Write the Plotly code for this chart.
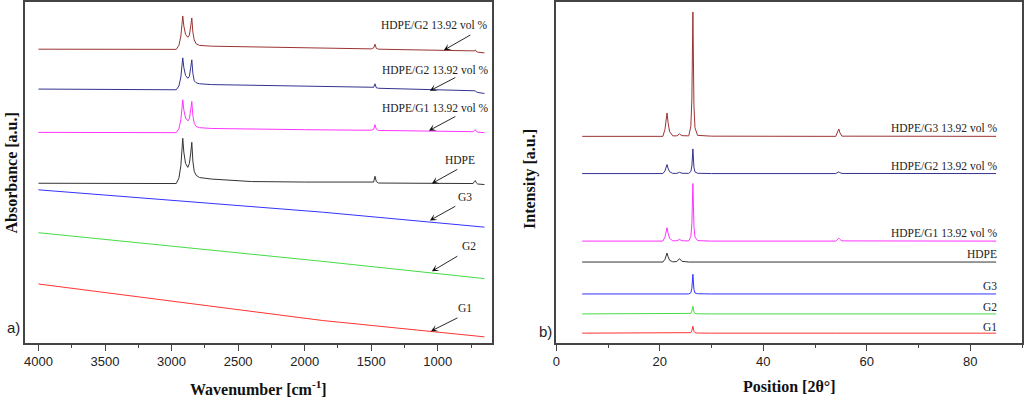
import plotly.graph_objects as go

# ---------------- FTIR (panel a) ----------------
ftir_wn = [4000, 3500, 3000, 2965, 2945, 2930, 2922, 2916, 2908, 2895, 2878, 2866,
           2856, 2848, 2840, 2830, 2815, 2790, 2700, 2400, 2000, 1600, 1500, 1482,
           1472, 1462, 1445, 1300, 1000, 800, 735, 726, 719, 712, 700, 650]
ftir_hdpe_g3 = [295.7, 295.7, 295.5, 295.5, 299.5, 308.9, 320.6, 329.0, 319.0, 310.6, 307.6, 309.7,
                319.1, 327.0, 312.8, 305.0, 301.0, 299.5, 298.7, 298.0, 297.2, 296.5, 296.0, 297.0,
                300.7, 296.5, 295.7, 295.3, 294.5, 293.5, 293.3, 294.0, 295.0, 293.5, 292.7, 292.0]
ftir_hdpe_g2 = [255.7, 255.5, 255.0, 255.0, 258.8, 267.8, 279.0, 287.0, 277.4, 269.4, 266.5, 268.5,
                277.5, 285.0, 271.5, 264.0, 262.0, 261.0, 260.2, 259.5, 258.5, 257.5, 257.0, 257.5,
                261.0, 257.0, 256.5, 256.0, 255.0, 253.7, 253.5, 253.7, 254.0, 253.0, 252.3, 251.3]
ftir_hdpe_g1 = [212.3, 212.2, 212.0, 212.0, 215.9, 225.1, 236.5, 245.0, 234.9, 226.7, 223.8, 226.0,
                235.3, 243.3, 229.0, 221.3, 218.2, 217.0, 216.2, 215.5, 215.0, 214.5, 214.5, 215.5,
                220.0, 215.5, 214.2, 214.0, 213.5, 213.0, 213.0, 214.0, 215.0, 213.5, 212.5, 212.0]
ftir_hdpe = [161.3, 161.2, 161.0, 161.0, 166.4, 179.0, 194.7, 206.3, 192.5, 181.2, 177.2, 181.2,
             191.7, 202.3, 183.5, 173.3, 169.2, 167.0, 165.5, 163.0, 162.5, 162.0, 161.8, 162.5,
             168.3, 163.0, 161.5, 161.3, 161.0, 160.7, 161.0, 163.0, 164.0, 162.0, 160.5, 160.0]
ftir_g_wn = [4000, 1867, 650]
ftir_g3 = [154.7, 132.3, 117.3]
ftir_g2 = [111.7, 83.0, 65.7]
ftir_g1 = [60.3, 23.7, 7.3]

# ---------------- XRD (panel b) ----------------
xrd_x = [5, 20.6, 21.0, 21.2, 21.4, 21.6, 21.9, 22.5, 23.3, 23.8, 24.3, 25.6, 26.0,
         26.2, 26.4, 26.6, 26.8, 27.3, 30, 54.0, 54.4, 54.6, 54.8, 55.2, 85]
xrd_hdpe_g3 = [208.3, 208.3, 215.3, 224.7, 231.7, 222.3, 213.0, 208.8, 208.8, 210.7, 209.0, 208.8, 218.3,
               245.7, 333.0, 239.3, 217.0, 209.3, 208.5, 208.3, 212.7, 215.7, 212.0, 208.5, 208.3]
xrd_hdpe_g2 = [171.0, 171.0, 173.7, 177.3, 180.0, 176.4, 172.8, 171.2, 171.2, 172.3, 171.3, 171.2, 173.0,
               178.4, 195.7, 177.2, 172.7, 171.3, 171.0, 171.0, 172.0, 172.7, 171.9, 171.1, 171.0]
xrd_hdpe_g1 = [103.3, 103.3, 107.3, 112.7, 116.7, 111.3, 106.0, 103.6, 103.6, 105.0, 103.6, 103.5, 107.9,
               120.6, 161.0, 117.7, 107.3, 103.8, 103.3, 103.3, 105.1, 106.3, 105.0, 103.5, 103.3]
xrd_hdpe = [82.3, 82.3, 85.0, 88.6, 91.3, 87.7, 84.1, 82.5, 82.8, 85.7, 83.0, 82.3, 82.3,
            82.3, 82.3, 82.3, 82.3, 82.3, 82.3, 82.3, 82.3, 82.3, 82.3, 82.3, 82.3]
xrd_g3 = [50.3, 50.3, 50.3, 50.3, 50.3, 50.3, 50.3, 50.3, 50.3, 50.3, 50.3, 50.3, 51.5,
          56.0, 70.0, 55.0, 51.3, 50.5, 50.3, 50.3, 50.5, 50.8, 50.5, 50.3, 50.3]
xrd_g2 = [30.3, 30.3, 30.3, 30.3, 30.3, 30.3, 30.3, 30.3, 30.3, 30.3, 30.3, 30.3, 30.8,
          33.0, 38.0, 32.5, 30.8, 30.4, 30.3, 30.3, 30.3, 30.3, 30.3, 30.3, 30.3]
xrd_g1 = [11.0, 11.0, 11.0, 11.0, 11.0, 11.0, 11.0, 11.0, 11.0, 11.0, 11.0, 11.0, 11.5,
          13.5, 18.0, 13.0, 11.5, 11.1, 11.0, 11.0, 11.0, 11.0, 11.0, 11.0, 11.0]

# labels
ftir_labels = ["HDPE/G2 13.92 vol %", "HDPE/G2 13.92 vol %", "HDPE/G1 13.92 vol %", "HDPE", "G3", "G2", "G1"]
ftir_label_x = [1030, 1022, 1022, 836, 798, 768, 798]
ftir_label_y = [320, 275, 237, 185, 148, 98.3, 36]
ftir_arrow_x = [955, 1060, 1067, 1045, 1060, 1045, 1052]
ftir_arrow_y = [294.7, 254, 214, 161, 124, 73, 13]
ftir_arrow_ax = [28, 27, 28, 27, 27, 27, 28]
ftir_arrow_ay = [-16, -14, -15, -15, -15, -16, -14]

xrd_labels = ["HDPE/G3 13.92 vol %", "HDPE/G2 13.92 vol %", "HDPE/G1 13.92 vol %", "HDPE", "G3", "G2", "G1"]
xrd_label_y = [216.3, 179, 111.7, 90, 58.3, 37.3, 17.3]

colors = {"hg3": "#9c3333", "hg2": "#33338f", "hg1": "#ff33ff", "hdpe": "#333333",
          "g3": "#3333ff", "g2": "#44dd44", "g1": "#ff3333"}

fig = go.Figure()

def add(x, y, c, xa, ya):
    fig.add_trace(go.Scatter(x=x, y=y, mode="lines", line=dict(color=c, width=1),
                             xaxis=xa, yaxis=ya, hoverinfo="skip", showlegend=False))

add(ftir_wn, ftir_hdpe_g3, colors["hg3"], "x", "y")
add(ftir_wn, ftir_hdpe_g2, colors["hg2"], "x", "y")
add(ftir_wn, ftir_hdpe_g1, colors["hg1"], "x", "y")
add(ftir_wn, ftir_hdpe, colors["hdpe"], "x", "y")
add(ftir_g_wn, ftir_g3, colors["g3"], "x", "y")
add(ftir_g_wn, ftir_g2, colors["g2"], "x", "y")
add(ftir_g_wn, ftir_g1, colors["g1"], "x", "y")

add(xrd_x, xrd_hdpe_g3, colors["hg3"], "x2", "y2")
add(xrd_x, xrd_hdpe_g2, colors["hg2"], "x2", "y2")
add(xrd_x, xrd_hdpe_g1, colors["hg1"], "x2", "y2")
add(xrd_x, xrd_hdpe, colors["hdpe"], "x2", "y2")
add(xrd_x, xrd_g3, colors["g3"], "x2", "y2")
add(xrd_x, xrd_g2, colors["g2"], "x2", "y2")
add(xrd_x, xrd_g1, colors["g1"], "x2", "y2")

W, H = 1024, 397
axcol = "#444444"
tickfont = dict(family="Liberation Sans, Arial", size=13, color="#222222")

common_x = dict(showline=True, linecolor=axcol, linewidth=1.5, mirror=True, ticks="outside",
                ticklen=6, tickwidth=1, tickcolor=axcol, showgrid=False, zeroline=False,
                tickfont=tickfont)
common_y = dict(showline=True, linecolor=axcol, linewidth=1.5, mirror=True, ticks="",
                showticklabels=False, showgrid=False, zeroline=False, range=[1, 343])

ydom = [(H - 343) / H, (H - 1) / H]

annotations = []
serif = "Liberation Serif, Times New Roman"
for t, x, y in zip(ftir_labels, ftir_label_x, ftir_label_y):
    annotations.append(dict(text=t, x=x, y=y, xref="x", yref="y", showarrow=False,
                            xanchor="center",
                            font=dict(family=serif, size=11.5, color="#222222")))
for x, y, ax, ay in zip(ftir_arrow_x, ftir_arrow_y, ftir_arrow_ax, ftir_arrow_ay):
    annotations.append(dict(text="", x=x, y=y, xref="x", yref="y", showarrow=True,
                            ax=ax, ay=ay, arrowhead=3, arrowsize=1.3, arrowwidth=0.9,
                            arrowcolor="#111111"))
for t, y in zip(xrd_labels, xrd_label_y):
    annotations.append(dict(text=t, x=85.5, y=y, xref="x2", yref="y2", xanchor="right",
                            showarrow=False, font=dict(family=serif, size=11.5, color="#222222")))

titlefont = dict(family=serif, size=16, color="#111111")
annotations += [
    dict(text="<b>Wavenumber [cm<sup>-1</sup>]</b>", x=256 / W, y=(H - 388) / H, xref="paper",
         yref="paper", showarrow=False, font=titlefont, xanchor="center", yanchor="middle"),
    dict(text="<b>Position [2θ°]</b>", x=789 / W, y=(H - 386) / H, xref="paper",
         yref="paper", showarrow=False, font=titlefont, xanchor="center", yanchor="middle"),
    dict(text="<b>Absorbance [a.u.]</b>", x=8 / W, y=(H - 172) / H, xref="paper",
         yref="paper", showarrow=False, font=titlefont, textangle=-90,
         xanchor="center", yanchor="middle"),
    dict(text="<b>Intensity [a.u.]</b>", x=528 / W, y=(H - 178) / H, xref="paper",
         yref="paper", showarrow=False, font=titlefont, textangle=-90,
         xanchor="center", yanchor="middle"),
    dict(text="a)", x=10 / W, y=(H - 327) / H, xref="paper", yref="paper", showarrow=False,
         xanchor="center", yanchor="middle",
         font=dict(family="Liberation Sans, Arial", size=15, color="#222222")),
    dict(text="b)", x=544 / W, y=(H - 331) / H, xref="paper", yref="paper", showarrow=False,
         xanchor="center", yanchor="middle",
         font=dict(family="Liberation Sans, Arial", size=15, color="#222222")),
]

fig.update_layout(
    width=W, height=H, autosize=False,
    margin=dict(l=0, r=0, t=0, b=0),
    paper_bgcolor="white", plot_bgcolor="white",
    showlegend=False, hovermode=False,
    xaxis=dict(common_x, domain=[21.5 / W, 490 / W], range=[4098, 596],
               tickvals=[4000, 3500, 3000, 2500, 2000, 1500, 1000],
               minor=dict(dtick=250, ticklen=3, tickcolor=axcol, ticks="outside")),
    yaxis=dict(common_y, domain=ydom, anchor="x"),
    xaxis2=dict(common_x, domain=[555 / W, 1023 / W], range=[0, 90], dtick=20, anchor="y2",
                minor=dict(dtick=10, ticklen=3, tickcolor=axcol, ticks="outside")),
    yaxis2=dict(common_y, domain=ydom, anchor="x2"),
    annotations=annotations,
)

fig.write_html("out.html", config={"displayModeBar": False},
               post_script="document.body.style.margin='0';document.body.style.padding='0';"
                           "document.documentElement.style.overflow='hidden';")
